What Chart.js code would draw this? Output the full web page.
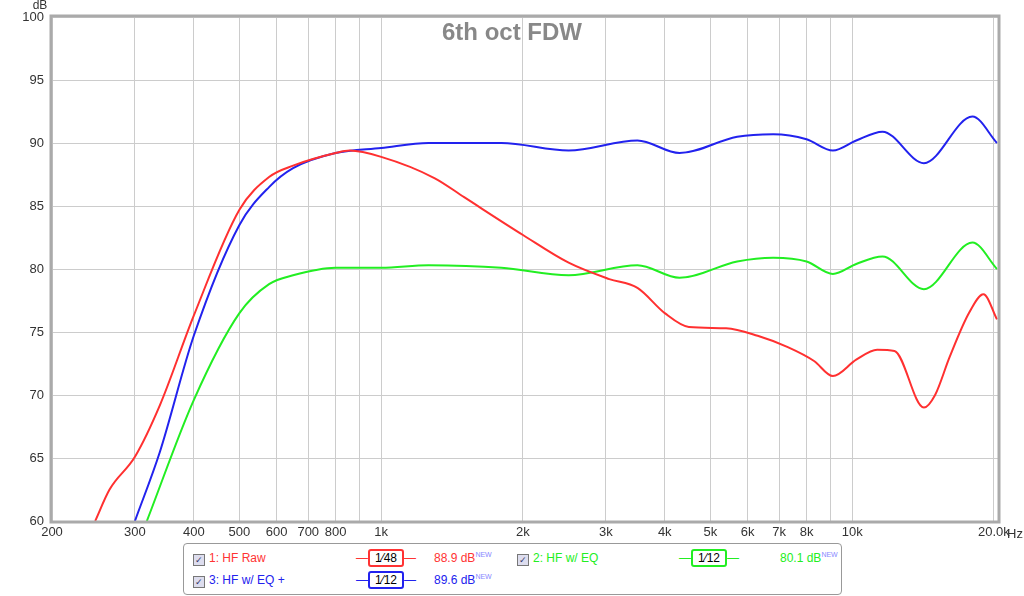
<!DOCTYPE html>
<html><head><meta charset="utf-8">
<script src="https://cdn.jsdelivr.net/npm/chart.js@4"></script>
<style>
body{margin:0;background:#fff;font-family:"Liberation Sans",Arial,sans-serif;}
#wrap{position:relative;width:1024px;height:540px;}
#legend{position:absolute;left:183px;top:543px;width:657px;height:50px;border:1px solid #999;border-radius:4px;font-size:12px;}
.it{position:absolute;}
.cb{display:inline-block;width:10px;height:10px;border:1px solid #777;background:#dde;vertical-align:-1px;margin-right:4px;font-size:9px;line-height:10px;text-align:center;color:#336;}
.sm{display:inline-block;border:2px solid;border-radius:3px;padding:0 5px;color:#000;font-size:12px;line-height:14px;}
sup{font-size:7px;color:#88f;}
</style></head><body>
<div id="wrap"><canvas id="c" width="1024" height="540"></canvas></div>
<div id="legend">
 <div class="it" style="left:9px;top:7px;color:#f33"><span class="cb">✓</span>1: HF Raw</div>
 <div class="it" style="left:172px;top:5px"><span style="color:#f33">—</span><span class="sm" style="border-color:#f33">1⁄48</span><span style="color:#f33">—</span></div>
 <div class="it" style="left:250px;top:7px;color:#f33">88.9 dB<sup>NEW</sup></div>
 <div class="it" style="left:333px;top:7px;color:#2e2"><span class="cb">✓</span>2: HF w/ EQ</div>
 <div class="it" style="left:495px;top:5px"><span style="color:#2e2">—</span><span class="sm" style="border-color:#2e2">1⁄12</span><span style="color:#2e2">—</span></div>
 <div class="it" style="left:596px;top:7px;color:#2e2">80.1 dB<sup>NEW</sup></div>
 <div class="it" style="left:9px;top:29px;color:#22e"><span class="cb">✓</span>3: HF w/ EQ +</div>
 <div class="it" style="left:172px;top:27px"><span style="color:#22e">—</span><span class="sm" style="border-color:#22e">1⁄12</span><span style="color:#22e">—</span></div>
 <div class="it" style="left:250px;top:29px;color:#22e">89.6 dB<sup>NEW</sup></div>
</div>
<script>
// frequency response readings (Hz, dB)
const rawFreq = [247,265,300,339,400,500,578,650,800,857,1000,1300,1500,2000,2500,3050,3500,4000,4500,5400,6300,7300,8300,9100,10200,11300,12300,14200,15000,16100,17700,19000,20300];
const rawDb   = [60,62.5,65.1,69.2,76.3,84.7,87.3,88.2,89.2,89.4,88.9,87.2,85.7,82.7,80.5,79.2,78.5,76.5,75.4,75.3,74.7,73.8,72.7,71.5,72.8,73.6,73.5,69,70,73,76.5,78,76];
const eqFreq  = [318,400,500,578,650,800,1000,1260,1800,2500,3500,4300,5700,6800,8000,9100,10200,11600,14200,18000,20300];
const eqDb    = [60,69.6,76.5,78.8,79.5,80.1,80.1,80.3,80.1,79.5,80.3,79.3,80.6,80.9,80.6,79.6,80.4,81,78.4,82.1,80];
const eqpFreq = [300,339,400,500,578,650,800,1000,1260,1800,2500,3500,4300,5700,6800,8000,9100,10200,11600,14200,18000,20300];
const eqpDb   = [60,65.5,74.7,83.5,86.5,88,89.2,89.6,90,90,89.4,90.2,89.2,90.5,90.7,90.3,89.4,90.2,90.9,88.4,92.1,90];
const xTicks = [200,300,400,500,600,700,800,900,1000,2000,3000,4000,5000,6000,7000,8000,9000,10000,20000];
const xLabels = {200:'200',300:'300',400:'400',500:'500',600:'600',700:'700',800:'800',1000:'1k',2000:'2k',3000:'3k',4000:'4k',5000:'5k',6000:'6k',7000:'7k',8000:'8k',10000:'10k',20000:'20.0k'};

const pts = (f, d) => f.map((v, i) => ({x: v, y: d[i]}));
const ds = (label, f, d, color) => ({label, data: pts(f, d), borderColor: color, borderWidth: 2, pointRadius: 0, cubicInterpolationMode: 'monotone', fill: false});

const extras = {
    id: 'extras',
    afterDraw(chart) {
        const ctx = chart.ctx, a = chart.chartArea;
        ctx.save();
        ctx.strokeStyle = '#aaa'; ctx.lineWidth = 3;
        ctx.strokeRect(a.left - 1, a.top - 1, a.right - a.left + 2, a.bottom - a.top + 2);
        ctx.fillStyle = '#888'; ctx.font = 'bold 24px "Liberation Sans", Arial';
        ctx.textAlign = 'center';
        ctx.fillText('6th oct FDW', 512, 40);
        ctx.fillStyle = '#333'; ctx.font = '12px "Liberation Sans", Arial';
        ctx.fillText('dB', 40, 9);
        ctx.textAlign = 'left'; ctx.font = '13px "Liberation Sans", Arial';
        ctx.fillText('Hz', 1007, 538);
        ctx.restore();
    }
};

new Chart(document.getElementById('c'), {
    type: 'line',
    data: {datasets: [ds('1: HF Raw', rawFreq, rawDb, '#ff3030'), ds('2: HF w/ EQ', eqFreq, eqDb, '#22ee22'), ds('3: HF w/ EQ +', eqpFreq, eqpDb, '#2222ee')]},
    options: {
        responsive: false, animation: false,
        layout: {padding: {top: 17, right: 26, left: 0, bottom: 0}},
        plugins: {legend: {display: false}, tooltip: {enabled: false}},
        scales: {
            x: {
                type: 'logarithmic', min: 200, max: 20400,
                afterBuildTicks: s => { s.ticks = xTicks.map(v => ({value: v})); },
                afterFit: s => { s.height = 19; },
                grid: {color: '#ccc', drawTicks: false},
                border: {display: false},
                ticks: {autoSkip: false, maxRotation: 0, color: '#333', font: {size: 13, family: 'Liberation Sans'}, padding: 4,
                    callback: v => xLabels[v] || ''}
            },
            y: {
                min: 60, max: 100,
                afterFit: s => { s.width = 52; },
                grid: {color: '#ccc', drawTicks: false},
                border: {display: false},
                ticks: {stepSize: 5, color: '#333', font: {size: 13, family: 'Liberation Sans'}, padding: 8}
            }
        }
    },
    plugins: [extras]
});
</script>
</body></html>
